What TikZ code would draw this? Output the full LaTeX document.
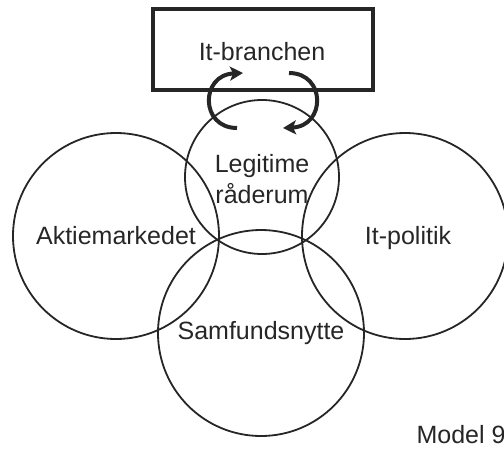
\documentclass[tikz,border=0pt]{standalone}
\usepackage{fontspec}
\setmainfont{Liberation Sans}
\usetikzlibrary{arrows.meta}
\begin{document}
\begin{tikzpicture}[x=1pt,y=-1pt,
  lbl/.style={font=\fontsize{25}{31}\selectfont, text=black!85},
  venn/.style={circle, draw=black!85, line width=1.8pt, inner sep=0pt, align=center, lbl},
  topbox/.style={rectangle, draw=black!85, line width=3.5pt, minimum width=220pt, minimum height=81pt, inner sep=0pt, lbl},
  cyc/.style={line width=4pt, draw=black!85, -{Stealth[length=13pt,width=14pt,inset=3pt]}}
]
\useasboundingbox (0,0) rectangle (504,448);
\node[topbox] (box) at (263,49.5) {\raisebox{0pt}[0pt][0pt]{}};
\node[lbl] (branch) at (262,52) {It-branchen};
\node[venn, minimum size=206pt] (akt) at (116,236) {Aktiemarkedet};
\node[venn, minimum size=206pt] (pol) at (405,236) {};
\node[lbl] (poltxt) at (408,238) {It-politik};
\node[venn, minimum size=206pt] (sam) at (261,333) {Samfundsnytte};
\node[venn, minimum size=154pt] (leg) at (262,177) {};
\node[lbl, align=center] (legtxt) at (262,179) {Legitime\\råderum};
\coordinate (a1) at (237,128);
\coordinate (a2) at (243,73);
\coordinate (b1) at (289,73);
\coordinate (b2) at (283,128);
\draw[cyc] (a1) .. controls (200,128) and (200,75) .. (a2);
\draw[cyc] (b1) .. controls (326,73) and (326,126) .. (b2);
\node[lbl, anchor=base west] (model) at (413,443) {Model 9};
\end{tikzpicture}
\end{document}
